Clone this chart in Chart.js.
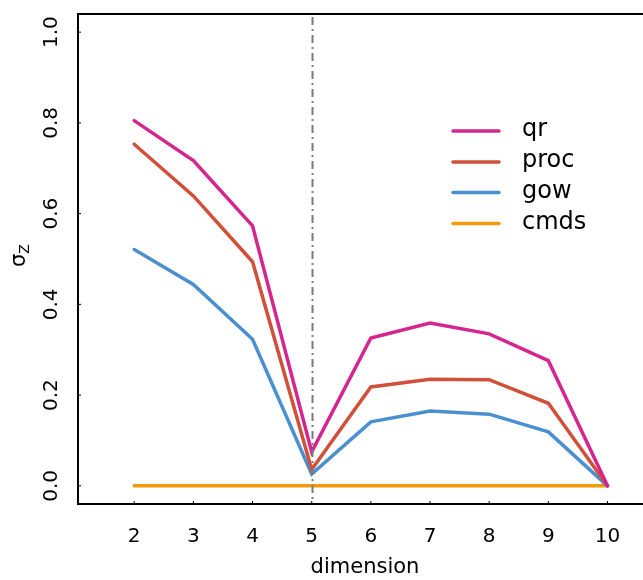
<!DOCTYPE html>
<html>
<head>
<meta charset="utf-8">
<script src="https://cdn.jsdelivr.net/npm/chart.js@4/dist/chart.umd.min.js"></script>
<style>
  html, body { margin: 0; padding: 0; background: #fff; }
  #wrap { width: 643px; height: 580px; }
</style>
</head>
<body>
<div id="wrap"><canvas id="chart" width="643" height="580"></canvas></div>
<script>
const dims = [2, 3, 4, 5, 6, 7, 8, 9, 10];
const qr = [0.805, 0.717, 0.573, 0.075, 0.326, 0.359, 0.335, 0.276, 0.0];
const proc = [0.753, 0.639, 0.494, 0.036, 0.218, 0.235, 0.234, 0.182, 0.0];
const gow = [0.521, 0.444, 0.323, 0.026, 0.141, 0.165, 0.158, 0.119, 0.0];
const cmds = [0, 0, 0, 0, 0, 0, 0, 0, 0];
const yTicks = [0, 0.2, 0.4, 0.6, 0.8, 1.0];
const markDim = 5;

const FONT = '"DejaVu Sans", Verdana, sans-serif';

function series(label, values, color) {
  return {
    label,
    data: dims.map((d, i) => ({ x: d, y: values[i] })),
    borderColor: color,
    backgroundColor: color,
    borderWidth: 3.5,
    borderCapStyle: 'round',
    pointRadius: 0,
    tension: 0,
  };
}

// frame, ticks, labels, reference line, legend
const decor = {
  id: 'decor',
  afterDatasetsDraw(chart) {
    const { ctx, chartArea: a, scales } = chart;
    const xs = scales.x, ys = scales.y;
    ctx.save();

    // dash-dot line at dimension 5
    const vx = Math.round(xs.getPixelForValue(markDim)) + 0.5;
    ctx.strokeStyle = '#7a7a7a';
    ctx.lineWidth = 2;
    ctx.setLineDash([8, 4, 2, 4]);
    ctx.beginPath();
    ctx.moveTo(vx, a.top + 3);
    ctx.lineTo(vx, a.bottom);
    ctx.stroke();
    ctx.setLineDash([]);

    // frame: left, top, bottom
    ctx.strokeStyle = '#000';
    ctx.lineWidth = 2;
    ctx.beginPath();
    ctx.moveTo(chart.width, a.top);
    ctx.lineTo(a.left, a.top);
    ctx.lineTo(a.left, a.bottom);
    ctx.lineTo(chart.width, a.bottom);
    ctx.stroke();

    // tick marks + labels
    ctx.lineWidth = 1;
    ctx.fillStyle = '#000';
    ctx.font = '20px ' + FONT;
    ctx.textAlign = 'center';
    ctx.textBaseline = 'middle';
    dims.forEach((d) => {
      const px = xs.getPixelForValue(d);
      ctx.beginPath();
      ctx.moveTo(px, a.bottom);
      ctx.lineTo(px, a.bottom - 3);
      ctx.stroke();
      ctx.fillText(String(d), px, 537);
    });
    yTicks.forEach((v) => {
      const py = ys.getPixelForValue(v);
      ctx.beginPath();
      ctx.moveTo(a.left, py);
      ctx.lineTo(a.left + 3, py);
      ctx.stroke();
      ctx.save();
      ctx.translate(52, py);
      ctx.rotate(-Math.PI / 2);
      ctx.fillText(v.toFixed(1), 0, 0);
      ctx.restore();
    });

    // axis titles
    ctx.font = '21px ' + FONT;
    ctx.fillText('dimension', 365, 568);
    ctx.save();
    ctx.translate(20, 258);
    ctx.rotate(-Math.PI / 2);
    ctx.textAlign = 'left';
    ctx.textBaseline = 'alphabetic';
    ctx.font = '21px ' + FONT;
    const sw = ctx.measureText('σ').width;
    ctx.fillText('σ', -9, 5);
    ctx.font = '14px ' + FONT;
    ctx.fillText('Z', -9 + sw, 9);
    ctx.restore();

    // legend
    const legendY = [131, 162, 192.5, 223.5];
    ctx.font = '24px ' + FONT;
    ctx.textAlign = 'left';
    ctx.textBaseline = 'middle';
    chart.data.datasets.forEach((ds, i) => {
      ctx.strokeStyle = ds.borderColor;
      ctx.lineWidth = 3.5;
      ctx.lineCap = 'round';
      ctx.beginPath();
      ctx.moveTo(453, legendY[i]);
      ctx.lineTo(499, legendY[i]);
      ctx.stroke();
      ctx.fillStyle = '#000';
      ctx.fillText(ds.label, 522, legendY[i] - 1);
    });

    ctx.restore();
  },
};

new Chart(document.getElementById('chart').getContext('2d'), {
  type: 'line',
  data: {
    datasets: [
      series('qr', qr, '#d4268e'),
      series('proc', proc, '#d1503a'),
      series('gow', gow, '#4a90d0'),
      series('cmds', cmds, '#f29a0a'),
    ],
  },
  options: {
    responsive: false,
    animation: false,
    layout: { padding: { left: 78, top: 14, right: 0, bottom: 76 } },
    scales: {
      x: { type: 'linear', min: 1.05, max: 10.6, display: false },
      y: { type: 'linear', min: -0.04, max: 1.04, display: false },
    },
    plugins: {
      legend: { display: false },
      tooltip: { enabled: false },
    },
  },
  plugins: [decor],
});
</script>
</body>
</html>
